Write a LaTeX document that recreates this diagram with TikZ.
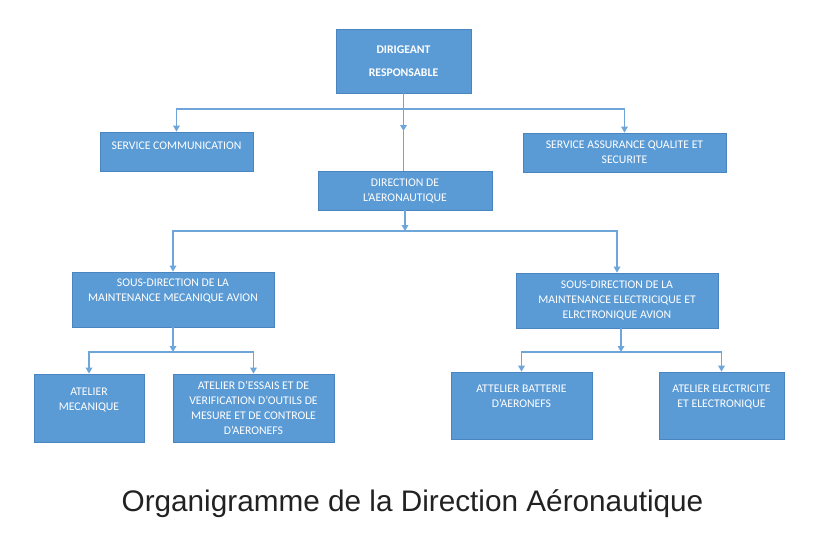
\documentclass[tikz,border=0pt]{standalone}
\usepackage{fontspec}
\setmainfont{Carlito}
\newfontfamily\titlefont{Liberation Sans}
\usetikzlibrary{arrows.meta}
\definecolor{boxblue}{HTML}{5B9BD5}
\definecolor{boxedge}{HTML}{4A85BF}
\definecolor{linkblue}{HTML}{6FA6DA}
\definecolor{titlegray}{HTML}{222222}
\tikzstyle{orgbox}=[draw=boxedge, fill=boxblue, text=white, align=center, inner sep=0pt, line width=0.6pt, font=\fontsize{8.8}{11.25}\selectfont]
\tikzstyle{orgLine}=[draw=linkblue, line width=0.9pt]
\tikzstyle{orgLink}=[orgLine, -{Triangle[length=4.5pt,width=5pt]}]

\begin{document}
\begin{tikzpicture}[x=0.75pt, y=-0.75pt]
    \useasboundingbox (0,0) rectangle (825,550);

    \node[orgbox, minimum width=101.25pt, minimum height=48pt, font=\bfseries\fontsize{8.8}{11.25}\selectfont] (dg) at (403.5,61) {DIRIGEANT\\[6pt]RESPONSABLE};

    \node[orgbox, minimum width=114.75pt, minimum height=29.25pt] (sc) at (176.5,151.5) {SERVICE COMMUNICATION\\[-2pt]};
    \node[orgbox, minimum width=152.25pt, minimum height=29.25pt] (sq) at (624.5,152.5) {SERVICE ASSURANCE QUALITE ET\\SECURITE};
    \node[orgbox, minimum width=130.5pt, minimum height=29.25pt] (da) at (405,190.5) {DIRECTION DE\\L'AERONAUTIQUE};

    \node[orgbox, minimum width=151.5pt, minimum height=41.25pt] (sm) at (173,299.5) {SOUS-DIRECTION DE LA\\MAINTENANCE MECANIQUE AVION\\[2pt]};
    \node[orgbox, minimum width=151.5pt, minimum height=41.25pt] (se) at (617,300.5) {SOUS-DIRECTION DE LA\\MAINTENANCE ELECTRICIQUE ET\\ELRCTRONIQUE AVION};

    \node[orgbox, minimum width=82.5pt, minimum height=51pt] (am) at (89,408) {ATELIER\\MECANIQUE\\[2pt]};
    \node[orgbox, minimum width=120.75pt, minimum height=51pt] (ae) at (253.5,408) {ATELIER D'ESSAIS ET DE\\VERIFICATION D'OUTILS DE\\MESURE ET DE CONTROLE\\D'AERONEFS};
    \node[orgbox, minimum width=105.75pt, minimum height=50.25pt] (ab) at (521.5,405.5) {ATTELIER BATTERIE\\D'AERONEFS\\[2pt]};
    \node[orgbox, minimum width=93.75pt, minimum height=50.25pt] (ael) at (721.5,405.5) {ATELIER ELECTRICITE\\ET ELECTRONIQUE\\[2pt]};

    \coordinate (jA) at (403.5,109);
    \coordinate (tA) at (403.5,131);
    \coordinate (jB) at (405,231);
    \coordinate (jC) at (173,352);
    \coordinate (jD) at (621,352);

    % Links
    \draw[orgLink] (dg.south) -- (tA);
    \draw[orgLine] (tA) -- (tA |- da.north);
    \draw[orgLink] (jA) -| (sc.north);
    \draw[orgLink] (jA) -| (sq.north);

    \draw[orgLink] (da.south) -- (jB);
    \draw[orgLink] (jB) -| (sm.north);
    \draw[orgLink] (jB) -| (se.north);

    \draw[orgLink] (sm.south) -- (jC);
    \draw[orgLink] (jC) -| (am.north);
    \draw[orgLink] (jC) -| (ae.north);

    \draw[orgLink] ([xshift=3pt]se.south) -- (jD);
    \draw[orgLink] (jD) -| (ab.north);
    \draw[orgLink] (jD) -| (ael.north);

    \node[font=\titlefont\fontsize{22.3}{26}\selectfont, text=titlegray] (title) at (412.5,504) {Organigramme de la Direction Aéronautique};

\end{tikzpicture}
\end{document}
